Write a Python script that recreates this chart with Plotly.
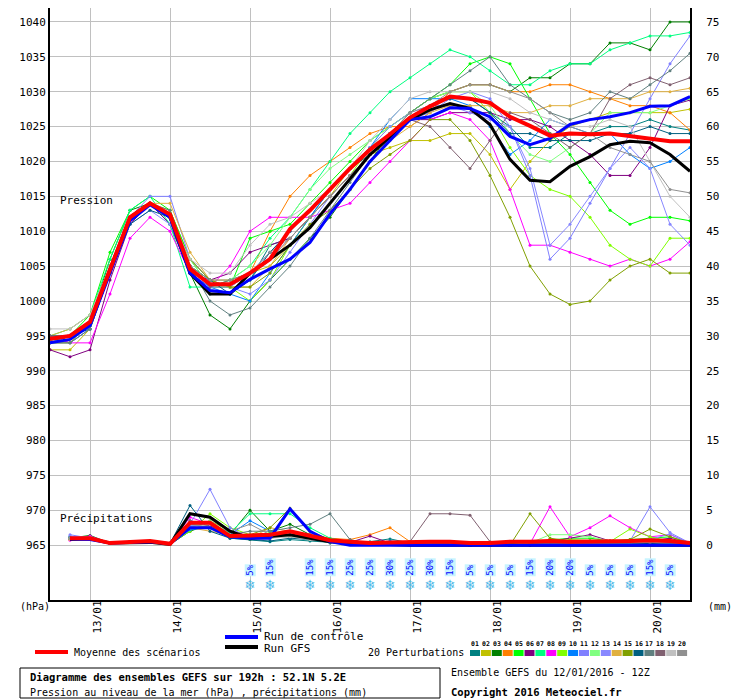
import pandas as pd
import plotly.graph_objects as go

# 6-hourly steps from the 12/01/2016 12Z run, 192h
times = pd.date_range("2016-01-12 12:00", periods=33, freq="6h")

member_colors = ["#008080", "#c0c000", "#008000", "#ff8000", "#00ff00", "#800080", "#00ff80",
                 "#ff00ff", "#80ff00", "#0080ff", "#8080ff", "#80ff80", "#8888ff", "#e0b040",
                 "#80a000", "#006080", "#608080", "#806070", "#c0c0c0", "#909090"]

# pressure (hPa)
p01 = [995, 994, 996, 1004, 1012, 1014, 1011, 1004, 1001, 1001, 1003, 1008, 1009, 1012, 1016, 1019, 1022, 1024, 1026, 1028, 1029, 1029, 1027, 1025, 1022, 1022, 1024, 1024, 1025, 1025, 1026, 1025, 1024.5]
p02 = [993, 993, 996, 1005, 1012, 1014, 1013, 1006, 1003, 1003, 1004, 1005, 1008, 1012, 1015, 1019, 1021, 1022, 1023, 1023, 1024, 1024, 1021, 1016, 1020, 1023, 1025, 1026, 1027, 1027, 1027, 1027, 1027.5]
p03 = [994, 995, 997, 1006, 1013, 1014, 1012, 1004, 998, 996, 1000, 1003, 1006, 1009, 1012, 1016, 1020, 1024, 1027, 1029, 1030, 1031, 1031, 1030, 1032, 1032, 1034, 1034, 1037, 1037, 1036, 1040, 1040]
p04 = [995, 995, 997, 1005, 1012, 1014, 1012, 1005, 1002, 1002, 1004, 1010, 1015, 1018, 1020, 1022, 1024, 1025, 1025, 1027, 1030, 1031, 1031, 1030, 1030, 1031, 1031, 1030, 1029, 1028, 1028, 1027, 1024.5]
p05 = [994, 995, 998, 1007, 1013, 1015, 1013, 1006, 1002, 1002, 1009, 1010, 1011, 1014, 1017, 1020, 1023, 1025, 1027, 1029, 1031, 1034, 1035, 1034, 1029, 1024, 1021, 1017, 1013, 1011, 1012, 1012, 1011.5]
p06 = [993, 992, 993, 1003, 1011, 1014, 1011, 1004, 1003, 1004, 1007, 1008, 1009, 1012, 1015, 1018, 1021, 1024, 1026, 1026, 1027, 1027, 1027, 1026, 1026, 1025, 1023, 1021, 1018, 1018, 1022, 1028, 1028.8]
p07 = [995, 996, 998, 1006, 1013, 1015, 1011, 1002, 1002, 1003, 1005, 1009, 1012, 1016, 1020, 1024, 1027, 1030, 1032, 1034, 1036, 1035, 1033, 1031, 1031, 1033, 1034, 1034, 1036, 1037, 1038, 1038, 1038.5]
p08 = [995, 994, 994, 1001, 1009, 1012, 1010, 1004, 1002, 1005, 1010, 1012, 1012, 1012, 1013, 1014, 1017, 1020, 1023, 1026, 1027, 1026, 1023, 1016, 1008, 1008, 1007, 1006, 1005, 1006, 1005, 1006, 1008.5]
p09 = [994, 995, 997, 1005, 1012, 1014, 1012, 1005, 1003, 1002, 1000, 1003, 1008, 1012, 1015, 1018, 1022, 1025, 1027, 1029, 1030, 1030, 1027, 1022, 1018, 1016, 1015, 1012, 1008, 1006, 1005, 1009, 1009]
p10 = [995, 995, 997, 1005, 1012, 1014, 1012, 1004, 1002, 1001, 1000, 1004, 1008, 1012, 1016, 1019, 1022, 1026, 1029, 1029, 1029, 1028, 1025, 1021, 1023, 1026, 1025, 1024, 1024, 1021, 1019, 1020, 1022]
p11 = [994, 995, 997, 1004, 1012, 1015, 1015, 1006, 1003, 1002, 1001, 1003, 1007, 1011, 1015, 1018, 1021, 1024, 1026, 1027, 1029, 1030, 1029, 1025, 1018, 1006, 1009, 1014, 1019, 1024, 1029, 1034, 1038]
p12 = [995, 995, 997, 1005, 1012, 1014, 1012, 1006, 1002, 1003, 1005, 1008, 1012, 1016, 1019, 1021, 1023, 1025, 1027, 1029, 1030, 1030, 1028, 1024, 1021, 1020, 1022, 1024, 1027, 1027, 1027, 1028, 1029]
p13 = [994, 994, 996, 1004, 1011, 1013, 1011, 1005, 1002, 1002, 1004, 1007, 1010, 1013, 1016, 1019, 1022, 1025, 1027, 1028, 1028, 1027, 1026, 1025, 1019, 1008, 1011, 1015, 1019, 1022, 1019, 1011, 1008]
p14 = [995, 996, 998, 1005, 1012, 1014, 1014, 1007, 1003, 1002, 1002, 1005, 1009, 1012, 1015, 1018, 1021, 1023, 1025, 1027, 1028, 1028, 1028, 1027, 1027, 1028, 1028, 1029, 1029, 1029, 1030, 1030, 1030.5]
p15 = [994, 994, 997, 1005, 1012, 1014, 1012, 1006, 1003, 1002, 1002, 1004, 1008, 1011, 1013, 1016, 1019, 1021, 1023, 1026, 1026, 1023, 1018, 1012, 1005, 1001, 999.5, 1000, 1003, 1005, 1006, 1004, 1004]
p16 = [995, 995, 996, 1004, 1011, 1013, 1012, 1005, 1003, 1001, 1003, 1007, 1010, 1013, 1016, 1019, 1021, 1024, 1026, 1028, 1029, 1029, 1027, 1024, 1024, 1023, 1023, 1023, 1024, 1024, 1025, 1024, 1024]
p17 = [994, 994, 996, 1004, 1012, 1014, 1013, 1005, 1000, 998, 999, 1002, 1005, 1009, 1013, 1017, 1021, 1024, 1027, 1029, 1031, 1033, 1035, 1031, 1029, 1027, 1026, 1027, 1030, 1029, 1031, 1033, 1035.5]
p18 = [995, 995, 997, 1004, 1012, 1014, 1012, 1005, 1002, 1003, 1004, 1006, 1009, 1012, 1015, 1018, 1021, 1024, 1026, 1025, 1022, 1019, 1023, 1027, 1026, 1024, 1022, 1024, 1029, 1031, 1032, 1031, 1032]
p19 = [996, 996, 998, 1005, 1012, 1014, 1012, 1006, 1004, 1004, 1008, 1011, 1012, 1014, 1016, 1019, 1023, 1026, 1029, 1030, 1030, 1030, 1030, 1029, 1027, 1026, 1025, 1025, 1026, 1025, 1020, 1015, 1012]
p20 = [994, 995, 997, 1005, 1012, 1014, 1012, 1005, 1003, 1003, 1004, 1007, 1009, 1012, 1015, 1018, 1021, 1024, 1027, 1028, 1030, 1031, 1031, 1030, 1029, 1027, 1025, 1024, 1022, 1021, 1020, 1016, 1015.5]
pressure_members = [p01, p02, p03, p04, p05, p06, p07, p08, p09, p10,
                    p11, p12, p13, p14, p15, p16, p17, p18, p19, p20]

control_p = [994, 994.5, 996.5, 1004, 1011.5, 1013.8, 1012, 1004, 1001.5, 1001.2, 1003.1, 1004.6, 1006, 1008.4, 1012.5, 1016, 1020, 1023, 1026, 1026.4, 1027.7, 1027.6, 1026.4, 1023.6, 1022.4, 1023.3, 1025.3, 1026, 1026.4, 1027, 1027.9, 1028, 1029.3]
gfs_p = [994.5, 995, 997, 1004.5, 1012, 1014, 1012, 1004, 1001, 1001, 1004, 1006, 1008, 1010.5, 1014, 1017.5, 1021, 1023.5, 1026, 1027.4, 1028.3, 1027.6, 1025.3, 1020.3, 1017.3, 1017.1, 1019.3, 1020.7, 1022.4, 1022.9, 1022.7, 1021, 1018.6]
mean_p = [994.6, 995, 997, 1004.6, 1012, 1014, 1012.4, 1004.6, 1002.4, 1002.4, 1004, 1006, 1010.3, 1013, 1016, 1019, 1021.7, 1023.9, 1026.3, 1027.9, 1029.3, 1029, 1028.4, 1026.4, 1025.1, 1023.7, 1024, 1023.9, 1024, 1023.6, 1023.2, 1022.9, 1022.9]

# precipitation (mm / 6h), first step has none
n = None
r01 = [n, 1.2, 1.0, 0.3, 0.5, 0.5, 0.3, 3.0, 2.5, 1.0, 0.8, 0.5, 0.8, 0.6, 0.3, 0.2, 0.5, 0.9, 0.3, 0.2, 0.1, 0.0, 0.0, 0.0, 0.2, 0.3, 0.4, 0.5, 0.4, 0.5, 0.5, 0.4, 0.1]
r02 = [n, 0.8, 0.9, 0.3, 0.5, 0.4, 0.2, 2.5, 3.5, 2.0, 0.8, 1.0, 1.5, 0.8, 0.5, 0.3, 0.2, 0.2, 0.1, 0.3, 0.2, 0.0, 0.0, 0.0, 0.0, 0.2, 0.3, 0.3, 0.2, 0.3, 0.3, 0.3, 0.1]
r03 = [n, 1.0, 1.4, 0.3, 0.5, 0.5, 0.1, 2.0, 3.0, 1.5, 5.0, 2.0, 3.0, 1.5, 0.5, 0.3, 0.2, 0.2, 0.1, 0.1, 0.1, 0.0, 0.0, 0.0, 0.0, 0.1, 0.2, 0.2, 0.1, 0.3, 0.3, 0.3, 0.1]
r04 = [n, 1.0, 1.0, 0.4, 0.5, 0.6, 0.2, 2.5, 3.0, 1.8, 1.2, 1.0, 1.5, 1.5, 1.0, 0.8, 1.5, 2.5, 0.5, 0.3, 0.5, 0.0, 0.0, 0.0, 0.2, 0.3, 0.4, 0.5, 0.4, 0.5, 0.6, 0.5, 0.2]
r05 = [n, 1.1, 1.0, 0.3, 0.5, 0.5, 0.2, 3.0, 3.0, 1.5, 1.2, 1.5, 1.2, 0.8, 0.5, 0.3, 0.2, 0.3, 0.2, 0.4, 0.3, 0.1, 0.0, 0.2, 0.5, 0.8, 1.0, 1.0, 0.6, 0.8, 1.0, 1.2, 0.3]
r06 = [n, 0.9, 1.2, 0.3, 0.4, 0.5, 0.2, 3.5, 2.8, 1.2, 1.0, 1.2, 1.5, 1.0, 0.6, 0.4, 1.3, 0.3, 0.2, 0.2, 0.2, 0.0, 0.0, 0.0, 0.2, 0.5, 1.0, 1.5, 0.6, 0.3, 0.6, 1.0, 0.2]
r07 = [n, 1.0, 1.1, 0.3, 0.5, 0.6, 0.2, 2.8, 3.2, 1.8, 4.5, 4.5, 4.5, 2.5, 1.0, 0.5, 0.3, 0.2, 0.2, 0.1, 0.1, 0.0, 0.0, 0.0, 0.1, 0.2, 0.3, 0.3, 0.3, 0.4, 0.4, 0.4, 0.1]
r08 = [n, 0.7, 1.3, 0.3, 0.5, 0.5, 0.2, 4.0, 3.0, 1.5, 1.0, 1.2, 1.2, 0.8, 0.5, 0.3, 0.2, 0.2, 0.2, 0.1, 0.2, 0.0, 0.0, 0.0, 0.2, 5.5, 1.2, 2.5, 4.2, 2.5, 1.2, 1.5, 0.3]
r09 = [n, 1.0, 1.0, 0.3, 0.5, 0.6, 0.2, 2.0, 4.5, 2.5, 1.5, 1.8, 2.0, 1.0, 0.5, 0.3, 0.2, 0.2, 0.1, 0.2, 0.1, 0.0, 0.0, 0.0, 0.2, 0.5, 0.8, 0.6, 0.5, 2.3, 1.2, 0.6, 0.2]
r10 = [n, 1.2, 1.0, 0.3, 0.5, 0.5, 0.2, 2.2, 2.5, 1.5, 3.5, 2.0, 1.5, 1.0, 0.5, 0.3, 0.3, 0.6, 0.4, 0.2, 0.1, 0.0, 0.0, 0.0, 0.1, 0.2, 0.2, 0.2, 0.2, 0.3, 0.3, 0.3, 0.1]
r11 = [n, 1.5, 1.0, 0.3, 0.5, 0.5, 0.2, 3.0, 8.0, 2.5, 1.0, 1.5, 1.5, 1.0, 0.5, 0.3, 0.2, 0.2, 0.1, 0.1, 0.1, 0.0, 0.0, 0.0, 0.1, 0.3, 0.5, 0.6, 0.5, 0.6, 5.5, 1.8, 0.3]
r12 = [n, 1.0, 1.1, 0.3, 0.5, 0.5, 0.2, 2.5, 3.5, 1.5, 1.0, 1.2, 1.2, 0.8, 0.5, 0.3, 0.2, 0.2, 0.2, 0.2, 0.1, 0.0, 0.0, 0.0, 0.3, 1.5, 1.5, 1.2, 0.6, 0.6, 0.8, 0.6, 0.2]
r13 = [n, 1.3, 1.0, 0.3, 0.5, 0.5, 0.2, 2.8, 3.0, 1.2, 1.0, 1.0, 1.5, 1.0, 0.6, 0.4, 0.3, 0.2, 0.2, 0.1, 0.1, 0.0, 0.0, 0.0, 0.1, 0.3, 0.3, 0.3, 0.3, 0.6, 0.8, 1.6, 0.2]
r14 = [n, 0.8, 1.0, 0.3, 0.4, 0.5, 0.2, 2.5, 2.0, 1.5, 1.0, 2.5, 2.0, 1.0, 0.5, 0.3, 0.2, 0.2, 0.2, 0.2, 0.1, 0.0, 0.0, 0.0, 0.1, 0.3, 0.3, 0.3, 0.3, 0.4, 0.5, 0.4, 0.1]
r15 = [n, 1.0, 1.0, 0.3, 0.5, 0.5, 0.2, 2.5, 3.0, 1.5, 1.5, 2.5, 5.3, 2.0, 0.8, 0.3, 0.2, 0.2, 0.2, 0.2, 0.1, 0.0, 0.0, 0.0, 4.5, 1.0, 0.6, 0.5, 0.5, 0.8, 2.3, 1.2, 0.3]
r16 = [n, 1.0, 1.0, 0.3, 0.5, 0.5, 0.2, 5.7, 2.0, 1.0, 0.8, 0.6, 1.0, 0.8, 0.4, 0.3, 0.2, 0.2, 0.1, 0.1, 0.1, 0.0, 0.0, 0.0, 0.1, 0.2, 0.2, 0.2, 0.2, 0.3, 0.3, 0.3, 0.1]
r17 = [n, 1.1, 1.0, 0.3, 0.5, 0.5, 0.2, 3.5, 2.5, 1.5, 2.0, 2.0, 2.5, 3.0, 4.5, 0.8, 0.2, 0.2, 0.2, 0.1, 0.1, 0.0, 0.0, 0.0, 0.1, 0.3, 0.3, 0.3, 0.3, 0.5, 0.6, 0.5, 0.1]
r18 = [n, 1.0, 1.0, 0.3, 0.5, 0.5, 0.2, 2.5, 3.0, 1.5, 1.0, 1.2, 1.5, 1.0, 0.5, 0.3, 0.2, 0.3, 0.5, 4.5, 4.5, 4.3, 0.5, 0.0, 0.1, 0.3, 0.3, 0.3, 0.3, 0.4, 0.5, 0.4, 0.1]
r19 = [n, 1.0, 1.0, 0.3, 0.5, 0.5, 0.2, 2.5, 3.0, 1.5, 1.0, 1.0, 1.2, 0.8, 0.5, 0.3, 0.2, 0.2, 0.2, 0.2, 0.1, 0.0, 0.0, 0.0, 0.1, 0.2, 0.2, 0.2, 0.2, 0.3, 0.4, 0.3, 0.1]
r20 = [n, 1.0, 1.0, 0.3, 0.5, 0.5, 0.2, 3.0, 2.5, 2.0, 3.0, 1.5, 1.5, 1.0, 0.5, 0.3, 0.2, 0.2, 0.2, 0.2, 0.1, 0.0, 0.0, 0.0, 0.1, 0.2, 0.2, 0.2, 0.2, 0.3, 0.4, 0.3, 0.1]
precip_members = [r01, r02, r03, r04, r05, r06, r07, r08, r09, r10,
                  r11, r12, r13, r14, r15, r16, r17, r18, r19, r20]

control_r = [n, 0.9, 0.8, 0.3, 0.4, 0.5, 0.2, 2.5, 2.5, 1.2, 1.0, 1.0, 5.2, 2.0, 0.5, 0.0, 0.0, 0.0, 0.0, 0.0, 0.0, 0.0, 0.0, 0.0, 0.0, 0.0, 0.0, 0.0, 0.0, 0.0, 0.0, 0.0, 0.0]
gfs_r = [n, 0.8, 0.9, 0.3, 0.4, 0.4, 0.1, 4.5, 4.0, 2.0, 1.0, 1.2, 1.5, 1.0, 0.5, 0.3, 0.2, 0.0, 0.0, 0.0, 0.0, 0.0, 0.0, 0.0, 0.0, 0.0, 0.0, 0.0, 0.0, 0.0, 0.0, 0.0, 0.0]
mean_r = [n, 1.0, 1.0, 0.3, 0.5, 0.6, 0.2, 3.2, 3.2, 1.3, 1.4, 1.5, 2.0, 1.3, 0.7, 0.5, 0.3, 0.4, 0.5, 0.5, 0.5, 0.3, 0.3, 0.5, 0.5, 0.6, 0.5, 0.5, 0.6, 0.6, 0.7, 0.6, 0.3]

# snow probability
snow_times = pd.date_range("2016-01-15 00:00", periods=22, freq="6h")
snow_pct = ["5%", "15%", None, "15%", "15%", "25%", "25%", "30%", "25%", "30%", "15%",
            "5%", "5%", "5%", "15%", "20%", "20%", "5%", "5%", "5%", "15%", "5%"]

FONT = "DejaVu Sans Mono"
fig = go.Figure()

for i in range(20):
    fig.add_trace(go.Scatter(x=times, y=pressure_members[i], mode="lines+markers",
                             line=dict(color=member_colors[i], width=1),
                             marker=dict(size=3, color=member_colors[i])))
    fig.add_trace(go.Scatter(x=times, y=precip_members[i], mode="lines+markers", yaxis="y2",
                             line=dict(color=member_colors[i], width=1),
                             marker=dict(size=3, color=member_colors[i])))

for yv, yr, col, w in [(gfs_p, gfs_r, "black", 3), (control_p, control_r, "#0000ff", 3),
                       (mean_p, mean_r, "#ff0000", 4)]:
    fig.add_trace(go.Scatter(x=times, y=yv, mode="lines", line=dict(color=col, width=w)))
    fig.add_trace(go.Scatter(x=times, y=yr, mode="lines", yaxis="y2", line=dict(color=col, width=w)))

# snowflakes and percentages
st = [t for t, p in zip(snow_times, snow_pct) if p]
sp = [p for p in snow_pct if p]
fig.add_trace(go.Scatter(x=st, y=[959.1] * len(st), mode="text", text=["❄"] * len(st),
                         textfont=dict(size=14, color="#50b8e8", family="DejaVu Sans")))
for t, p in zip(st, sp):
    fig.add_annotation(x=t, y=960.4, yanchor="bottom", text=p, textangle=-90, showarrow=False,
                       font=dict(size=9, color="#0000ff", family=FONT), bgcolor="#c8f4ff",
                       borderpad=0)

days = pd.date_range("2016-01-13", periods=8, freq="D")
# the page adds 8px of body margin, so the figure is 8px smaller on each side
fig.update_layout(
    width=732, height=692, margin=dict(l=42, r=50, t=0, b=100),
    paper_bgcolor="white", plot_bgcolor="white", showlegend=False,
    font=dict(family=FONT, size=11, color="black"),
    xaxis=dict(range=[times[0], times[-1]], tickvals=days, ticktext=[d.strftime("%d/%m") for d in days],
               tickangle=-90, ticklabelshift=7, ticklabelstandoff=-6, showgrid=True, gridcolor="#c0c0c0",
               gridwidth=1, showline=True, linecolor="black", linewidth=2, ticks="", zeroline=False),
    yaxis=dict(range=[957.14, 1042.0], tickvals=list(range(965, 1041, 5)), showgrid=True,
               gridcolor="#c0c0c0", showline=True, linecolor="black", linewidth=2, ticks="",
               zeroline=False),
    yaxis2=dict(range=[-7.86, 77.0], overlaying="y", side="right", tickvals=list(range(0, 76, 5)),
                showgrid=False, showline=True, linecolor="black", linewidth=2, ticks="",
                ticklabelstandoff=12, zeroline=False),
)

def px(x):
    return (x - 50) / 640

def py(y):
    return (600 - y) / 592

def note(x, y, text, size=10, bold=False, xanchor="left"):
    if bold:
        text = "<b>" + text + "</b>"
    fig.add_annotation(x=px(x), y=py(y), xref="paper", yref="paper", text=text, showarrow=False,
                       xanchor=xanchor, yanchor="middle", font=dict(size=size, family=FONT))

note(58, 200, "Pression", size=11)
note(58, 518, "Précipitations", size=11)
note(18, 606, "(hPa)")
note(706, 606, "(mm)")
note(262, 636, "Run de contrôle", size=11)
note(262, 648, "Run GFS", size=11)
note(72, 652, "Moyenne des scénarios")
note(366, 652, "20 Perturbations")
note(449, 672, "Ensemble GEFS du 12/01/2016 - 12Z")
note(449, 692, "Copyright 2016 Meteociel.fr", size=10.5, bold=True)
note(28, 677, "Diagramme des ensembles GEFS sur 192h : 52.1N 5.2E", size=10.5, bold=True)
note(28, 692, "Pression au niveau de la mer (hPa) , précipitations (mm)")

for x0, x1, y, col in [(225, 258, 637, "#0000ff"), (225, 258, 647, "black"), (35, 68, 652, "#ff0000")]:
    fig.add_shape(type="line", xref="paper", yref="paper", x0=px(x0), x1=px(x1), y0=py(y), y1=py(y),
                  line=dict(color=col, width=4))
fig.add_shape(type="rect", xref="paper", yref="paper", x0=px(20), x1=px(440), y0=py(668), y1=py(698),
              line=dict(color="black", width=1))

for i, col in enumerate(member_colors):
    x0 = 470 + i * 10.9
    fig.add_shape(type="rect", xref="paper", yref="paper", x0=px(x0), x1=px(x0 + 10), y0=py(656),
                  y1=py(650), line=dict(width=0), fillcolor=col)
    note(x0 + 5, 644, "%02d" % (i + 1), size=6.5, bold=True, xanchor="center")

fig.write_html("out.html")
